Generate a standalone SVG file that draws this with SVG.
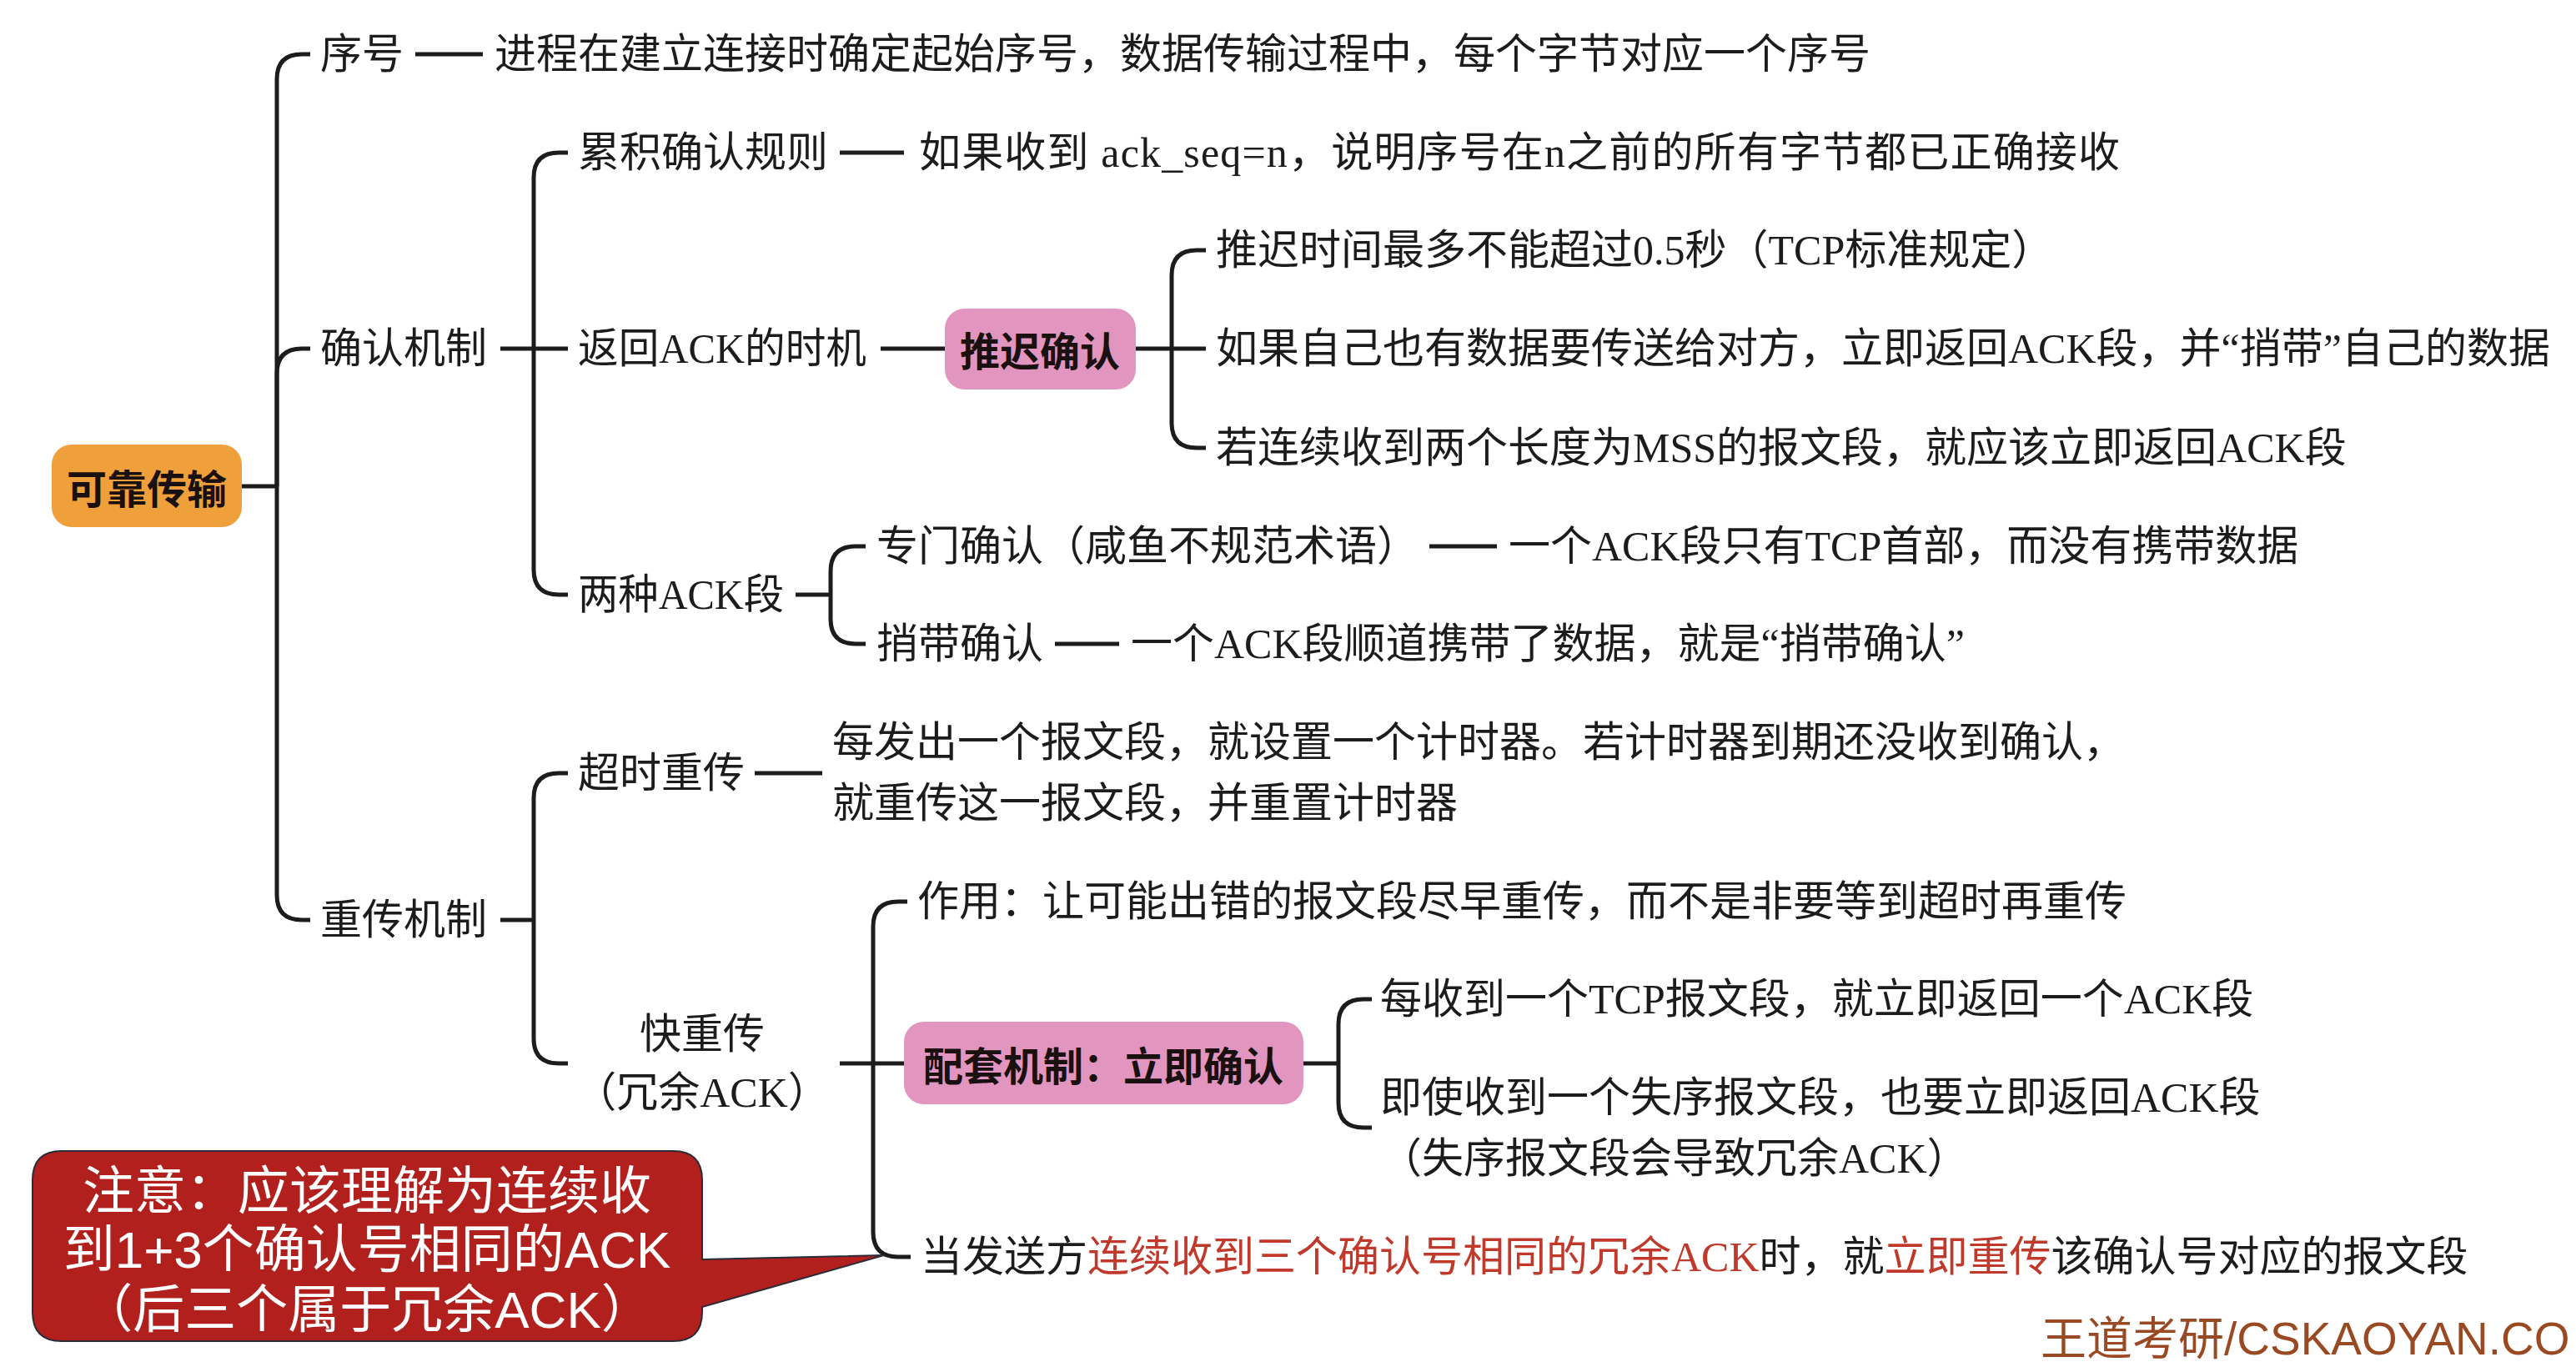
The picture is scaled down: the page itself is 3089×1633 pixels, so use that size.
<svg xmlns="http://www.w3.org/2000/svg" width="3089" height="1633" viewBox="0 0 3089 1633">
<style>
.t{font-family:"Liberation Serif","Noto Sans CJK SC",serif;font-size:50px;fill:#1c1c1c;dominant-baseline:central}
.b{font-family:"Noto Sans CJK SC",sans-serif;font-size:48px;font-weight:bold;fill:#1a1010;dominant-baseline:central;text-anchor:middle}
.r{fill:#C0392B}
.c{fill:none;stroke:#1c1c1c;stroke-width:5;stroke-linecap:butt}
.n{font-family:"Liberation Sans","Noto Sans CJK SC",sans-serif;font-size:62px;fill:#ffffff;dominant-baseline:central;text-anchor:middle}
</style>
<rect width="3089" height="1633" fill="#ffffff"/>
<g id="connectors" class="c">
<path d="M290 583 H332"/>
<path d="M332 583 V95 Q332 65 362 65 H372"/>
<path d="M332 583 V448 Q332 418 362 418 H372"/>
<path d="M332 583 V1073 Q332 1103 362 1103 H372"/>
<path d="M498 65 H579"/>
<path d="M600 418 H640"/>
<path d="M640 418 V213 Q640 183 670 183 H681"/>
<path d="M640 418 H681"/>
<path d="M640 418 V683 Q640 713 670 713 H681"/>
<path d="M1007 183 H1084"/>
<path d="M1056 418 H1133"/>
<path d="M1362 418 H1405"/>
<path d="M1405 418 V330 Q1405 300 1435 300 H1446"/>
<path d="M1405 418 H1446"/>
<path d="M1405 418 V507 Q1405 537 1435 537 H1446"/>
<path d="M954 713 H996"/>
<path d="M996 713 V685 Q996 655 1026 655 H1038"/>
<path d="M996 713 V742 Q996 772 1026 772 H1038"/>
<path d="M1714 655 H1795"/>
<path d="M1265 772 H1342"/>
<path d="M600 1103 H640"/>
<path d="M640 1103 V957 Q640 927 670 927 H681"/>
<path d="M640 1103 V1245 Q640 1275 670 1275 H681"/>
<path d="M905 927 H986"/>
<path d="M1007 1275 H1047"/>
<path d="M1047 1275 V1111 Q1047 1081 1077 1081 H1088"/>
<path d="M1047 1275 H1084"/>
<path d="M1047 1275 V1477 Q1047 1507 1077 1507 H1092"/>
<path d="M1563 1275 H1605"/>
<path d="M1605 1275 V1228 Q1605 1198 1635 1198 H1645"/>
<path d="M1605 1275 V1322 Q1605 1352 1635 1352 H1645"/>
</g>
<g id="root">
<rect x="62" y="533" width="228" height="99" rx="24" fill="#F0A03A"/>
<text class="b" x="176" y="583">可靠传输</text>
</g>
<g id="n-seq"><text class="t" x="384" y="65">序号</text></g>
<g id="n-seq-desc"><text class="t" x="593" y="65">进程在建立连接时确定起始序号，数据传输过程中，每个字节对应一个序号</text></g>
<g id="n-ack"><text class="t" x="384" y="418">确认机制</text></g>
<g id="n-cum"><text class="t" x="693" y="183">累积确认规则</text></g>
<g id="n-cum-desc"><text class="t" x="1102" y="183" textLength="1440" lengthAdjust="spacing">如果收到 ack_seq=n，说明序号在n之前的所有字节都已正确接收</text></g>
<g id="n-when"><text class="t" x="693" y="418" textLength="346" lengthAdjust="spacingAndGlyphs">返回ACK的时机</text></g>
<g id="n-delay">
<rect x="1133" y="370" width="229" height="97" rx="24" fill="#E195BF"/>
<text class="b" x="1247" y="418">推迟确认</text>
</g>
<g id="n-d1"><text class="t" x="1458" y="300">推迟时间最多不能超过0.5秒（TCP标准规定）</text></g>
<g id="n-d2"><text class="t" x="1458" y="418">如果自己也有数据要传送给对方，立即返回ACK段，并“捎带”自己的数据</text></g>
<g id="n-d3"><text class="t" x="1458" y="537">若连续收到两个长度为MSS的报文段，就应该立即返回ACK段</text></g>
<g id="n-two"><text class="t" x="693" y="713" textLength="247" lengthAdjust="spacingAndGlyphs">两种ACK段</text></g>
<g id="n-ded"><text class="t" x="1051" y="655">专门确认（咸鱼不规范术语）</text></g>
<g id="n-ded-desc"><text class="t" x="1809" y="655">一个ACK段只有TCP首部，而没有携带数据</text></g>
<g id="n-pig"><text class="t" x="1051" y="772">捎带确认</text></g>
<g id="n-pig-desc"><text class="t" x="1356" y="772">一个ACK段顺道携带了数据，就是“捎带确认”</text></g>
<g id="n-re"><text class="t" x="384" y="1103">重传机制</text></g>
<g id="n-timeout"><text class="t" x="693" y="927">超时重传</text></g>
<g id="n-timeout-desc">
<text class="t" x="998" y="890">每发出一个报文段，就设置一个计时器。若计时器到期还没收到确认，</text>
<text class="t" x="998" y="963">就重传这一报文段，并重置计时器</text>
</g>
<g id="n-fast">
<text class="t" x="842" y="1240" text-anchor="middle">快重传</text>
<text class="t" x="842" y="1310" text-anchor="middle">（冗余ACK）</text>
</g>
<g id="n-f1"><text class="t" x="1100" y="1081">作用：让可能出错的报文段尽早重传，而不是非要等到超时再重传</text></g>
<g id="n-imm">
<rect x="1084" y="1225" width="479" height="99" rx="24" fill="#E195BF"/>
<text class="b" x="1323" y="1275">配套机制：立即确认</text>
</g>
<g id="n-i1"><text class="t" x="1655" y="1198">每收到一个TCP报文段，就立即返回一个ACK段</text></g>
<g id="n-i2">
<text class="t" x="1655" y="1316">即使收到一个失序报文段，也要立即返回ACK段</text>
<text class="t" x="1655" y="1389">（失序报文段会导致冗余ACK）</text>
</g>
<g id="n-f3"><text class="t" x="1104" y="1507">当发送方<tspan class="r">连续收到三个确认号相同的冗余ACK</tspan>时，就<tspan class="r">立即重传</tspan>该确认号对应的报文段</text></g>
<g id="callout">
<path d="M74 1380 H807 Q842 1380 842 1415 V1510 L1060 1505 L842 1567 V1573 Q842 1608 807 1608 H74 Q39 1608 39 1573 V1415 Q39 1380 74 1380 Z" fill="#B2201E" stroke="#2b2b3a" stroke-width="2"/>
<text class="n" x="440" y="1428">注意：应该理解为连续收</text>
<text class="n" x="440" y="1498">到1+3个确认号相同的ACK</text>
<text class="n" x="440" y="1570">（后三个属于冗余ACK）</text>
</g>
<g id="watermark">
<text x="2447" y="1605" font-family="Liberation Sans,Noto Sans CJK SC,sans-serif" font-size="55" fill="#9A4A22" dominant-baseline="central">王道考研/CSKAOYAN.CO</text>
</g>
</svg>
